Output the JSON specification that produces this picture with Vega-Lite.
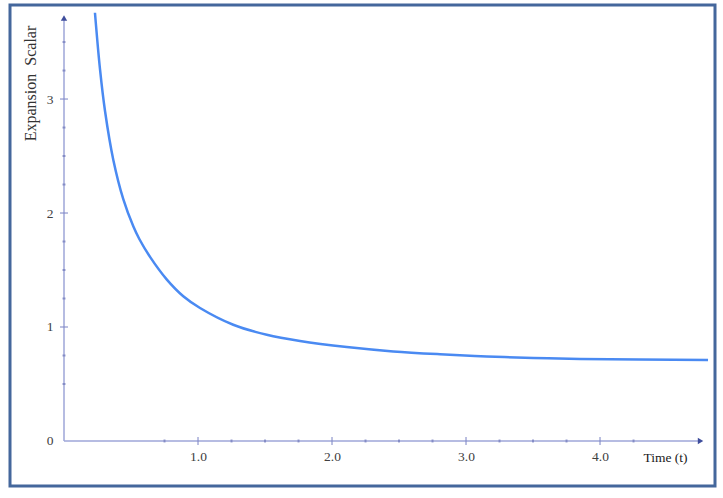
{
  "$schema": "https://vega.github.io/schema/vega-lite/v6.json",
  "width": 705,
  "height": 481,
  "autosize": {"type": "none"},
  "padding": {"left": 10, "top": 5, "right": 8, "bottom": 12},
  "background": "white",
  "config": {"view": {"stroke": "#44679c", "strokeWidth": 3}, "font": "Liberation Serif"},
  "datasets": {
    "curve": [
      {"t": 0.231, "v": 3.757},
      {"t": 0.269, "v": 3.257},
      {"t": 0.306, "v": 2.895},
      {"t": 0.368, "v": 2.466},
      {"t": 0.443, "v": 2.119},
      {"t": 0.517, "v": 1.883},
      {"t": 0.562, "v": 1.772},
      {"t": 0.642, "v": 1.615},
      {"t": 0.766, "v": 1.418},
      {"t": 0.890, "v": 1.270},
      {"t": 1.015, "v": 1.167},
      {"t": 1.263, "v": 1.020},
      {"t": 1.513, "v": 0.932},
      {"t": 1.761, "v": 0.877},
      {"t": 2.110, "v": 0.824},
      {"t": 2.457, "v": 0.786},
      {"t": 2.806, "v": 0.761},
      {"t": 3.154, "v": 0.742},
      {"t": 3.502, "v": 0.729},
      {"t": 3.851, "v": 0.720},
      {"t": 4.806, "v": 0.711}
    ],
    "axislines": [
      {"t": 0, "v": 0, "t2": 4.75, "v2": 0},
      {"t": 0, "v": 0, "t2": 0, "v2": 3.71}
    ],
    "arrows": [
      {"t": 4.75, "v": 0, "dir": "right"},
      {"t": 0, "v": 3.71, "dir": "up"}
    ],
    "xmajor": [{"t": 1, "v": 0}, {"t": 2, "v": 0}, {"t": 3, "v": 0}, {"t": 4, "v": 0}],
    "ymajor": [{"t": 0, "v": 1}, {"t": 0, "v": 2}, {"t": 0, "v": 3}],
    "xminor": [
      {"t": 0.75, "v": 0}, {"t": 1.25, "v": 0}, {"t": 1.5, "v": 0}, {"t": 1.75, "v": 0},
      {"t": 2.25, "v": 0}, {"t": 2.5, "v": 0}, {"t": 2.75, "v": 0},
      {"t": 3.25, "v": 0}, {"t": 3.5, "v": 0}, {"t": 3.75, "v": 0}, {"t": 4.25, "v": 0}
    ],
    "yminor": [
      {"t": 0, "v": 0.5}, {"t": 0, "v": 0.75}, {"t": 0, "v": 1.25}, {"t": 0, "v": 1.5}, {"t": 0, "v": 1.75},
      {"t": 0, "v": 2.25}, {"t": 0, "v": 2.5}, {"t": 0, "v": 2.75}, {"t": 0, "v": 3.25}, {"t": 0, "v": 3.5}
    ]
  },
  "layer": [
    {
      "data": {"name": "axislines"},
      "mark": {"type": "rule", "color": "#9ea6d8", "strokeWidth": 1.5},
      "encoding": {
        "x": {
          "field": "t", "type": "quantitative",
          "scale": {"domain": [-0.403, 4.858], "nice": false, "zero": false},
          "axis": {
            "orient": "bottom", "offset": -45, "domain": false, "ticks": false, "grid": false,
            "values": [1, 2, 3, 4], "format": ".1f",
            "labelFont": "Liberation Serif", "labelFontSize": 13.5, "labelColor": "#404040", "labelPadding": 8,
            "title": "Time (t)", "titleFont": "Liberation Serif", "titleFontSize": 13.5, "titleFontWeight": "normal",
            "titleColor": "#1a1a1a", "titleX": 655, "titleY": 16, "titleAlign": "center", "titleBaseline": "middle", "titleAngle": 0
          }
        },
        "x2": {"field": "t2"},
        "y": {
          "field": "v", "type": "quantitative",
          "scale": {"domain": [-0.395, 3.825], "nice": false, "zero": false},
          "axis": {
            "orient": "left", "offset": -54, "domain": false, "ticks": false, "grid": false,
            "values": [0, 1, 2, 3], "format": "d",
            "labelFont": "Liberation Serif", "labelFontSize": 13.5, "labelColor": "#404040", "labelPadding": 11,
            "title": "Expansion\u00a0 Scalar", "titleFont": "Liberation Serif", "titleFontSize": 16, "titleFontWeight": "normal",
            "titleColor": "#333333", "titleX": -34, "titleY": 78, "titleAlign": "center", "titleBaseline": "middle", "titleAngle": -90
          }
        },
        "y2": {"field": "v2"}
      }
    },
    {
      "data": {"name": "xmajor"},
      "mark": {"type": "tick", "orient": "vertical", "size": 8, "thickness": 1.5, "color": "#7f88c6"},
      "encoding": {"x": {"field": "t", "type": "quantitative"}, "y": {"field": "v", "type": "quantitative"}}
    },
    {
      "data": {"name": "ymajor"},
      "mark": {"type": "tick", "orient": "horizontal", "size": 8, "thickness": 1.5, "color": "#7f88c6"},
      "encoding": {"x": {"field": "t", "type": "quantitative"}, "y": {"field": "v", "type": "quantitative"}}
    },
    {
      "data": {"name": "xminor"},
      "mark": {"type": "tick", "orient": "vertical", "size": 3, "thickness": 2, "color": "#6f78ba"},
      "encoding": {"x": {"field": "t", "type": "quantitative"}, "y": {"field": "v", "type": "quantitative"}}
    },
    {
      "data": {"name": "yminor"},
      "mark": {"type": "tick", "orient": "horizontal", "size": 3, "thickness": 2, "color": "#6f78ba"},
      "encoding": {"x": {"field": "t", "type": "quantitative"}, "y": {"field": "v", "type": "quantitative"}}
    },
    {
      "data": {"name": "arrows"},
      "mark": {"type": "point", "filled": true, "size": 40, "color": "#3e4d9c", "opacity": 1},
      "encoding": {
        "x": {"field": "t", "type": "quantitative"},
        "y": {"field": "v", "type": "quantitative"},
        "shape": {"field": "dir", "type": "nominal", "scale": {"domain": ["right", "up"], "range": ["triangle-right", "triangle-up"]}, "legend": null}
      }
    },
    {
      "data": {"name": "curve"},
      "mark": {"type": "line", "color": "#4a8af2", "strokeWidth": 2.5, "interpolate": "catmull-rom"},
      "encoding": {"x": {"field": "t", "type": "quantitative"}, "y": {"field": "v", "type": "quantitative"}}
    }
  ]
}
